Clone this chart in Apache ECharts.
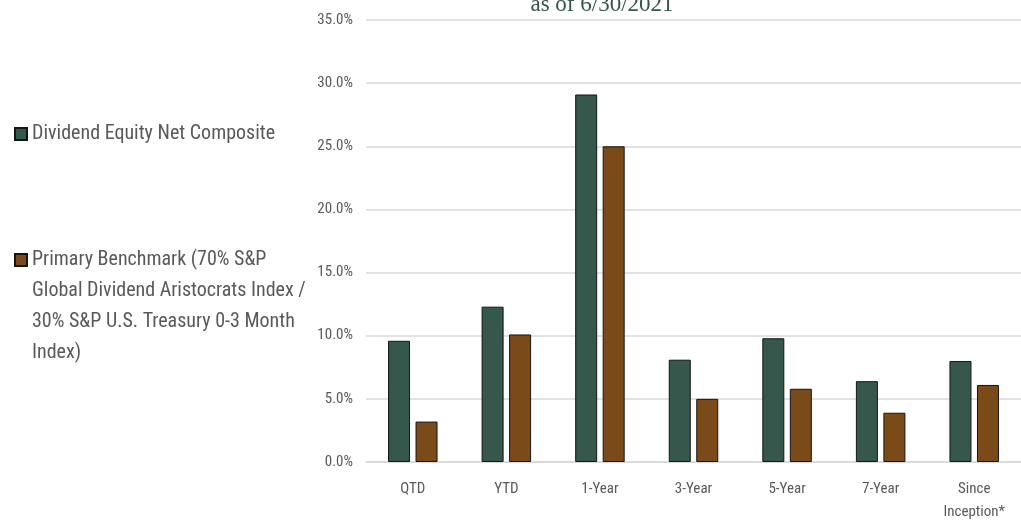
<!DOCTYPE html>
<html>
<head>
<meta charset="utf-8">
<script src="https://cdn.jsdelivr.net/npm/echarts@6/dist/echarts.min.js"></script>
<style>
html,body{margin:0;padding:0;background:#fff;}
#chart{width:1021px;height:524px;}
</style>
</head>
<body>
<div id="chart"></div>
<script>
const categories = ['QTD', 'YTD', '1-Year', '3-Year', '5-Year', '7-Year', 'Since\nInception*'];
const compositeValues = [9.6, 12.3, 29.1, 8.1, 9.8, 6.4, 8.0];
const benchmarkValues = [3.2, 10.1, 25.0, 5.0, 5.8, 3.9, 6.1];
const seriesNames = [
  'Dividend Equity Net Composite',
  'Primary Benchmark (70% S&P Global Dividend Aristocrats Index / 30% S&P U.S. Treasury 0-3 Month Index)'
];
const benchmarkLegendLines = [
  'Primary Benchmark (70% S&P',
  'Global Dividend Aristocrats Index /',
  '30% S&P U.S. Treasury 0-3 Month',
  'Index)'
];
const yTicks = { min: 0, max: 35, interval: 5 };
const titleText = 'as of 6/30/2021';

const sansFont = "'Liberation Sans Narrow', 'Roboto Condensed', 'Open Sans', sans-serif";
const textGrey = '#595959';
const green = '#36574B';
const brown = '#7B4A19';

const chart = echarts.init(document.getElementById('chart'));
const legendCommon = {
  orient: 'vertical',
  left: 14,
  padding: 0,
  itemWidth: 12,
  itemHeight: 12,
  icon: 'rect',
  selectedMode: false,
  textStyle: { fontFamily: sansFont, fontSize: 20, color: textGrey, lineHeight: 31 }
};
chart.setOption({
  animation: false,
  backgroundColor: '#fff',
  graphic: [{
    type: 'text',
    x: 602,
    y: 5,
    style: {
      text: titleText,
      align: 'center',
      verticalAlign: 'middle',
      fontFamily: "'Liberation Serif', 'DejaVu Serif', serif",
      fontSize: 23,
      fill: '#365649'
    }
  }],
  legend: [
    Object.assign({}, legendCommon, {
      top: 118.5,
      data: [seriesNames[0]]
    }),
    Object.assign({}, legendCommon, {
      top: 151.5,
      data: [seriesNames[1]],
      // three leading empty lines keep the icon level with the first text line
      formatter: function () { return '\n\n\n' + benchmarkLegendLines.join('\n'); }
    })
  ],
  grid: { left: 366, right: -15, top: 20, bottom: 57, containLabel: false },
  xAxis: {
    type: 'category',
    data: categories,
    axisLine: { show: true, lineStyle: { color: '#d9d9d9', width: 1.5 } },
    axisTick: { show: false },
    axisLabel: {
      margin: 16,
      fontFamily: sansFont,
      fontSize: 15,
      color: textGrey,
      lineHeight: 23,
      interval: 0
    }
  },
  yAxis: {
    type: 'value',
    min: yTicks.min,
    max: yTicks.max,
    interval: yTicks.interval,
    axisLine: { show: false },
    axisTick: { show: false },
    splitLine: { lineStyle: { color: '#d9d9d9', width: 1.5 } },
    axisLabel: {
      margin: 13,
      fontFamily: sansFont,
      fontSize: 15,
      color: textGrey,
      formatter: function (v) { return v.toFixed(1) + '%'; }
    }
  },
  series: [
    {
      name: seriesNames[0],
      type: 'bar',
      data: compositeValues,
      barWidth: 22,
      barGap: '25%',
      itemStyle: { color: green, borderColor: '#151515', borderWidth: 1 }
    },
    {
      name: seriesNames[1],
      type: 'bar',
      data: benchmarkValues,
      barWidth: 22,
      barGap: '25%',
      itemStyle: { color: brown, borderColor: '#151515', borderWidth: 1 }
    }
  ]
});
</script>
</body>
</html>
